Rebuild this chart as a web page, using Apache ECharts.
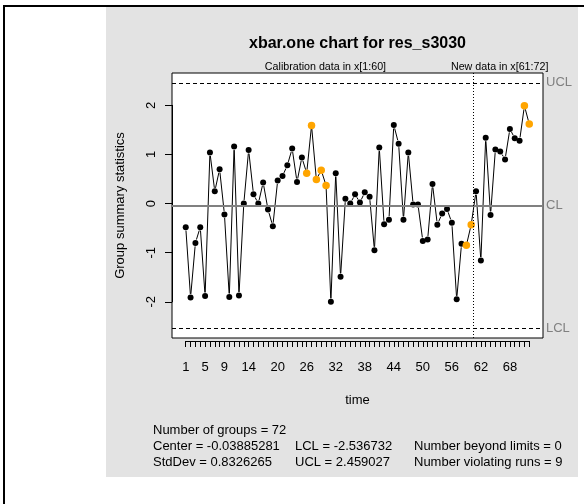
<!DOCTYPE html>
<html>
<head>
<meta charset="UTF-8">
<title>xbar.one chart for res_s3030</title>
<script src="https://cdn.jsdelivr.net/npm/echarts@6/dist/echarts.min.js"></script>
<style>
  body { margin: 0; background: #fff; }
  #wrap { position: relative; width: 584px; height: 504px; overflow: hidden; }
  #frameTop { position: absolute; left: 3px; top: 5px; width: 581px; height: 2px; background: #000; }
  #frameLeft { position: absolute; left: 3px; top: 5px; width: 2px; height: 499px; background: #000; }
  #panel { position: absolute; left: 106px; top: 7px; width: 472px; height: 470px; background: #e3e3e3; }
  #chart { position: absolute; left: 0; top: 0; width: 584px; height: 504px; }
</style>
</head>
<body>
<div id="wrap">
  <div id="frameTop"></div>
  <div id="frameLeft"></div>
  <div id="panel"></div>
  <div id="chart"></div>
</div>
<script>
// group summary statistics, one per time point (1..72)
var stats = [
  -0.48, -1.91, -0.80, -0.48, -1.88, 1.04, 0.25, 0.70, -0.22, -1.90,
   1.16, -1.87, 0.00, 1.09, 0.19, 0.00, 0.43, -0.12, -0.46, 0.47,
   0.56, 0.78, 1.12, 0.44, 0.94, 0.62, 1.59, 0.49, 0.68, 0.37,
  -2.00, 0.62, -1.49, 0.10, 0.00, 0.19, 0.02, 0.23, 0.14, -0.95,
   1.14, -0.42, -0.33, 1.60, 1.22, -0.33, 1.04, -0.02, -0.02, -0.76,
  -0.73, 0.40, -0.43, -0.20, -0.11, -0.39, -1.95, -0.82, -0.85, -0.43,
   0.25, -1.16, 1.34, -0.23, 1.10, 1.06, 0.90, 1.52, 1.33, 1.28,
   1.99, 1.62
];
// points violating runs (orange)
var runPoints = [26, 27, 28, 29, 30, 59, 60, 71, 72];
var xTickLabels = [1, 5, 9, 14, 20, 26, 32, 38, 44, 50, 56, 62, 68];
var centerLine = -0.03885281;
var lclValue = -2.536732;
var uclValue = 2.459027;
var calibEnd = 60;
var statLines = [
  ['Number of groups = 72', '', ''],
  ['Center = -0.03885281', 'LCL = -2.536732', 'Number beyond limits = 0'],
  ['StdDev = 0.8326265', 'UCL = 2.459027', 'Number violating runs = 9']
];

var FONT = '"Liberation Sans", Arial, Helvetica, sans-serif';

// plot box (pixels)
var box = { left: 172, top: 73, width: 371, height: 265 };

// R style 4% extended ranges
var n = stats.length;
var xMin = 1 - 0.04 * (n - 1), xMax = n + 0.04 * (n - 1);
var yLo = Math.min(lclValue, Math.min.apply(null, stats));
var yHi = Math.max(uclValue, Math.max.apply(null, stats));
var yMin = yLo - 0.04 * (yHi - yLo), yMax = yHi + 0.04 * (yHi - yLo);

function xpx(v) { return box.left + (v - xMin) / (xMax - xMin) * box.width; }
function ypx(v) { return box.top + (yMax - v) / (yMax - yMin) * box.height; }

var normalPts = [], runPts = [], segs = [];
for (var i = 0; i < n; i++) {
  var t = i + 1;
  if (runPoints.indexOf(t) >= 0) runPts.push([t, stats[i]]);
  else normalPts.push([t, stats[i]]);
  if (i < n - 1) segs.push([t, stats[i], stats[i + 1]]);
}

var chart = echarts.init(document.getElementById('chart'), null, { renderer: 'canvas' });

var graphics = [
  { type: 'text', x: box.left + box.width / 2, y: 44,
    style: { text: 'xbar.one chart for res_s3030', font: 'bold 16px ' + FONT, fill: '#000', align: 'center', verticalAlign: 'middle' } },
  { type: 'text', x: (xpx(1) + xpx(calibEnd)) / 2 - 3, y: 67,
    style: { text: 'Calibration data in x[1:60]', font: '10.7px ' + FONT, fill: '#000', align: 'center', verticalAlign: 'middle' } },
  { type: 'text', x: (xpx(calibEnd + 1) + xpx(n)) / 2 - 3, y: 67,
    style: { text: 'New data in x[61:72]', font: '10.7px ' + FONT, fill: '#000', align: 'center', verticalAlign: 'middle' } },
  { type: 'text', x: box.left + box.width / 2, y: 400,
    style: { text: 'time', font: '13px ' + FONT, fill: '#000', align: 'center', verticalAlign: 'middle' } },
  { type: 'text', x: 120, y: box.top + box.height / 2, rotation: Math.PI / 2,
    style: { text: 'Group summary statistics', font: '13px ' + FONT, fill: '#000', align: 'center', verticalAlign: 'middle' } }
];
var colX = [153, 295, 414], rowY = [430, 446.5, 462.5];
statLines.forEach(function (row, r) {
  row.forEach(function (txt, c) {
    if (!txt) return;
    graphics.push({ type: 'text', x: colX[c], y: rowY[r],
      style: { text: txt, font: '13px ' + FONT, fill: '#000', align: 'left', verticalAlign: 'middle' } });
  });
});

chart.setOption({
  animation: false,
  grid: [
    { left: box.left, top: box.top, width: box.width, height: box.height,
      show: true, backgroundColor: '#fff', borderColor: '#000', borderWidth: 1, outerBoundsMode: 'none' },
    { left: xpx(1), width: xpx(n) - xpx(1), top: 300, height: 41, show: false, outerBoundsMode: 'none' },
    { left: box.left, width: 20, top: ypx(2), height: ypx(-2) - ypx(2), show: false, outerBoundsMode: 'none' }
  ],
  xAxis: [
    { gridIndex: 0, type: 'value', min: xMin, max: xMax, show: false },
    { gridIndex: 1, type: 'value', min: 1, max: n, interval: 1, position: 'bottom',
      axisLine: { show: true, lineStyle: { color: '#000', width: 1 } },
      axisTick: { show: true, length: 6, lineStyle: { color: '#000', width: 1 } },
      splitLine: { show: false },
      axisLabel: { show: true, margin: 20, fontFamily: FONT, fontSize: 13, color: '#000', hideOverlap: false,
        formatter: function (v) { return xTickLabels.indexOf(v) >= 0 ? String(v) : ''; } } },
    { gridIndex: 2, type: 'value', show: false, min: 0, max: 1 }
  ],
  yAxis: [
    { gridIndex: 0, type: 'value', min: yMin, max: yMax, show: false },
    { gridIndex: 1, type: 'value', show: false, min: 0, max: 1 },
    { gridIndex: 2, type: 'value', min: -2, max: 2, interval: 1, position: 'left',
      axisLine: { show: true, lineStyle: { color: '#000', width: 1 } },
      axisTick: { show: true, length: 7, lineStyle: { color: '#000', width: 1 } },
      splitLine: { show: false },
      axisLabel: { show: true, rotate: 90, margin: 14, fontFamily: FONT, fontSize: 13, color: '#000' } }
  ],
  graphic: graphics,
  series: [
    {
      type: 'custom', xAxisIndex: 0, yAxisIndex: 0, data: segs, silent: true,
      encode: { x: 0, y: 1 },
      renderItem: function (params, api) {
        var a = api.coord([api.value(0), api.value(1)]);
        var b = api.coord([api.value(0) + 1, api.value(2)]);
        var dx = b[0] - a[0], dy = b[1] - a[1];
        var len = Math.sqrt(dx * dx + dy * dy), gap = 3.5;
        if (len <= 2 * gap) return null;
        var ux = dx / len, uy = dy / len;
        return { type: 'line',
          shape: { x1: a[0] + ux * gap, y1: a[1] + uy * gap, x2: b[0] - ux * gap, y2: b[1] - uy * gap },
          style: { stroke: '#000', lineWidth: 1 } };
      },
      z: 2
    },
    {
      type: 'scatter', xAxisIndex: 0, yAxisIndex: 0, data: normalPts, silent: true,
      symbol: 'circle', symbolSize: 6, itemStyle: { color: '#000', opacity: 1 }, z: 3,
      markLine: {
        silent: true, symbol: 'none', animation: false,
        label: { position: 'end', color: '#808080', fontFamily: FONT, fontSize: 13, distance: 3 },
        data: [
          { yAxis: uclValue, label: { formatter: 'UCL' }, lineStyle: { color: '#000', type: [4, 3], width: 1, opacity: 1 } },
          { yAxis: centerLine, label: { formatter: 'CL' }, lineStyle: { color: '#808080', type: 'solid', width: 2, opacity: 1 } },
          { yAxis: lclValue, label: { formatter: 'LCL' }, lineStyle: { color: '#000', type: [4, 3], width: 1, opacity: 1 } },
          { xAxis: calibEnd + 0.5, label: { show: false }, lineStyle: { color: '#000', type: [1, 2], width: 1, opacity: 1 } }
        ]
      }
    },
    {
      type: 'scatter', xAxisIndex: 0, yAxisIndex: 0, data: runPts, silent: true,
      symbol: 'circle', symbolSize: 7.5, itemStyle: { color: '#FFA500', opacity: 1 }, z: 4
    }
  ]
});
</script>
</body>
</html>
